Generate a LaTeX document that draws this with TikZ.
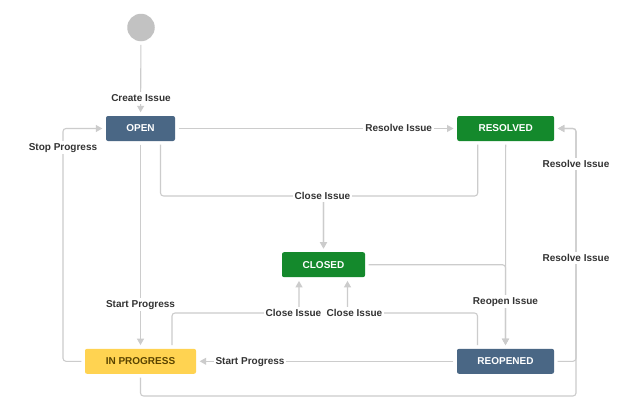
\documentclass[tikz,border=0pt]{standalone}
\usepackage{fontspec}
\setmainfont{Liberation Sans}
\usetikzlibrary{arrows.meta}
\definecolor{edgegray}{HTML}{CCCCCC}
\definecolor{startgray}{HTML}{C2C2C2}
\definecolor{jblue}{HTML}{4A6785}
\definecolor{jgreen}{HTML}{14892C}
\definecolor{jyellow}{HTML}{FFD351}
\definecolor{jbrown}{HTML}{594300}
\definecolor{lbltext}{HTML}{333333}
\tikzset{
  state/.style={rectangle, rounded corners=2pt, minimum height=25pt, inner sep=0pt,
    text=white, font=\bfseries\fontsize{10}{12}\selectfont},
  bluestate/.style={state, fill=jblue},
  greenstate/.style={state, fill=jgreen},
  yellowstate/.style={state, fill=jyellow, text=jbrown},
  edge/.style={draw=edgegray, line width=1.1pt, rounded corners=3pt,
    -{Triangle[length=6.5pt,width=7pt]}, shorten <=3.5pt, shorten >=3.5pt},
  lbl/.style={fill=white, text=lbltext, inner xsep=2pt, inner ysep=2.5pt,
    text height=7.2pt, text depth=0.3pt, font=\bfseries\fontsize{10}{12}\selectfont}
}
\begin{document}
\begin{tikzpicture}[x=1pt,y=-1pt]
\useasboundingbox (0,0) rectangle (640,415);
\fill[white] (0,0) rectangle (640,415);
% states
\node[circle, fill=startgray, minimum size=27.5pt, inner sep=0pt] (start) at (141,27.5) {};
\node[bluestate, minimum width=69pt] (open) at (140.5,128.5) {OPEN};
\node[greenstate, minimum width=97pt] (resolved) at (505.7,128.5) {RESOLVED};
\node[greenstate, minimum width=83pt] (closed) at (323.5,264.7) {CLOSED};
\node[yellowstate, minimum width=111pt] (inprog) at (140.5,361.3) {IN PROGRESS};
\node[bluestate, minimum width=97pt] (reopened) at (505.5,361.3) {REOPENED};
% connectors
\draw[edge] (start) -- (open);
\draw[edge] (inprog.west) -| (63,128.5) -- (open.west);
\draw[edge] (open.east) -- (resolved.west);
\draw[edge] ([xshift=20pt]open.south) |- (323.5,196) -- (closed.north);
\draw[edge] ([xshift=-28pt]resolved.south) |- (323.5,196) -- (closed.north);
\draw[edge] (open.south) -- (inprog.north);
\draw[edge] (resolved.south) -- (reopened.north);
\draw[edge] (closed.east) -| (reopened.north);
\draw[edge] ([xshift=31.5pt]inprog.north) |- (299,313) -- ([xshift=-24.5pt]closed.south);
\draw[edge] ([xshift=-28pt]reopened.north) |- (347.5,313) -- ([xshift=24pt]closed.south);
\draw[edge] (reopened.west) -- (inprog.east);
\draw[edge] (inprog.south) |- (576,396) |- (resolved.east);
\draw[edge] (reopened.east) -| (576,128.5) -- (resolved.east);
% labels
\node[lbl] (lcreate) at (141,98) {Create Issue};
\node[lbl] (lstop) at (63,147.5) {Stop Progress};
\node[lbl] (lres1) at (398.7,128.5) {Resolve Issue};
\node[lbl] (lclose1) at (322.5,196) {Close Issue};
\node[lbl] (lstart1) at (140.5,304.5) {Start Progress};
\node[lbl] (lreopen) at (505.5,301.5) {Reopen Issue};
\node[lbl] (lclose2) at (293.5,313) {Close Issue};
\node[lbl] (lclose3) at (354.5,313) {Close Issue};
\node[lbl] (lstart2) at (250,361.3) {Start Progress};
\node[lbl] (lres2) at (576,164) {Resolve Issue};
\node[lbl] (lres3) at (576,258) {Resolve Issue};
\end{tikzpicture}
\end{document}
